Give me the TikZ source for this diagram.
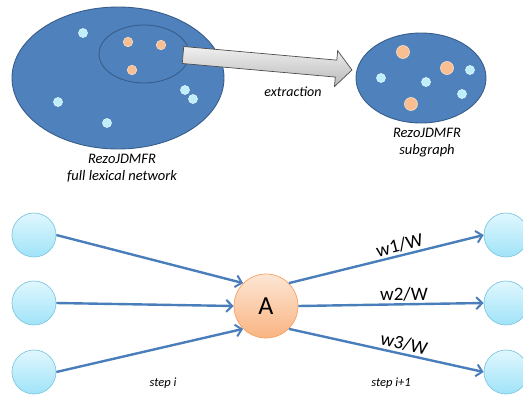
\documentclass[tikz,border=0pt]{standalone}
\usepackage{fontspec}
\setmainfont{Carlito}
\usetikzlibrary{arrows.meta}
\definecolor{netfill}{RGB}{79,129,189}
\definecolor{netline}{RGB}{56,93,138}
\definecolor{dotcyan}{RGB}{190,238,250}
\definecolor{dotcyanb}{RGB}{225,247,253}
\definecolor{dotorange}{RGB}{249,190,146}
\definecolor{dotorangeb}{RGB}{252,222,198}
\definecolor{cyantop}{RGB}{224,247,254}
\definecolor{cyanbot}{RGB}{160,227,248}
\definecolor{cyanline}{RGB}{126,200,225}
\definecolor{orangetop}{RGB}{253,230,212}
\definecolor{orangebot}{RGB}{249,180,130}
\definecolor{orangeline}{RGB}{247,160,100}
\definecolor{edgeblue}{RGB}{74,126,187}
\tikzset{
  netellipse/.style={draw=netline, line width=0.9pt, fill=netfill},
  cdot/.style={circle, inner sep=0pt, minimum size=9pt, fill=dotcyan, draw=dotcyanb, line width=0.6pt},
  odot/.style={circle, inner sep=0pt, minimum size=9.5pt, fill=dotorange, draw=dotorangeb, line width=0.6pt},
  bodot/.style={circle, inner sep=0pt, minimum size=13pt, fill=dotorange, draw=dotorangeb, line width=0.6pt},
  vnode/.style={circle, inner sep=0pt, minimum size=44pt, top color=cyantop, bottom color=cyanbot, draw=cyanline, line width=0.7pt},
  anode/.style={circle, inner sep=0pt, minimum size=64pt, top color=orangetop, bottom color=orangebot, draw=orangeline, line width=0.7pt, font=\fontsize{26pt}{28pt}\selectfont},
  flowedge/.style={draw=edgeblue, line width=2.4pt, -{Straight Barb[length=6pt,width=12pt,line width=2pt]}},
  captext/.style={font=\fontsize{14.5pt}{17pt}\selectfont\itshape, align=center},
  stepl/.style={font=\fontsize{12.5pt}{14pt}\selectfont\itshape},
  wlab/.style={font=\fontsize{19pt}{21pt}\selectfont, inner sep=2pt},
}
\begin{document}
\begin{tikzpicture}[x=1pt,y=-1pt]
\useasboundingbox (0,0) rectangle (523,397);
% big network
\path[netellipse] (118,78) ellipse [x radius=106, y radius=71];
\draw[netline, line width=0.9pt] (144,54) ellipse [x radius=45, y radius=29];
\node[cdot] (c1) at (83,33) {};
\node[cdot] (c2) at (58,102) {};
\node[cdot] (c3) at (107,123) {};
\node[cdot] (c4) at (185,90) {};
\node[cdot] (c5) at (193,99) {};
\node[odot] (o1) at (128,42) {};
\node[odot] (o2) at (161,45) {};
\node[odot] (o3) at (132,70) {};
\node[captext] (t1) at (122,168) {RezoJDMFR\\full lexical network};
% extraction arrow
\draw[draw=black!70, line width=0.7pt, top color=gray!12, bottom color=gray!55]
  (183.75,46.53) -- (336.81,60.12) -- (337.65,50.66) -- (352,70) -- (334.47,86.52) -- (335.31,77.06) -- (182.25,63.47) -- cycle;
\node[font=\fontsize{14pt}{16pt}\selectfont\itshape] (ex) at (293,92) {extraction};
% subgraph
\path[netellipse] (421,78) ellipse [x radius=65, y radius=45];
\node[bodot] (s1) at (403,52) {};
\node[bodot] (s2) at (447,68) {};
\node[bodot] (s3) at (411,104) {};
\node[cdot] (s4) at (381,78) {};
\node[cdot] (s5) at (426,82) {};
\node[cdot] (s6) at (470,70) {};
\node[cdot] (s7) at (462,94) {};
\node[captext] (t2) at (427,143) {RezoJDMFR\\subgraph};
% bottom graph
\node[vnode] (l1) at (34,235) {};
\node[vnode] (l2) at (34,303) {};
\node[vnode] (l3) at (34,372) {};
\node[anode] (A) at (266,306) {A};
\node[vnode] (r1) at (506,235) {};
\node[vnode] (r2) at (506,303) {};
\node[vnode] (r3) at (506,372) {};
\draw[flowedge] (l1.east) -- (A.135);
\draw[flowedge] (l2.east) -- (A.180);
\draw[flowedge] (l3.east) -- (A.225);
\draw[flowedge] (A.45) -- node[wlab, pos=0.58, above, sloped] {w1/W} (r1.west);
\draw[flowedge] (A.east) -- node[wlab, pos=0.57, above] {w2/W} (r2.west);
\draw[flowedge] (A.-45) -- node[wlab, pos=0.58, above, sloped] {w3/W} (r3.west);
\node[stepl] (si) at (163,383) {step i};
\node[stepl] (si1) at (391,383) {step i+1};
\end{tikzpicture}
\end{document}
